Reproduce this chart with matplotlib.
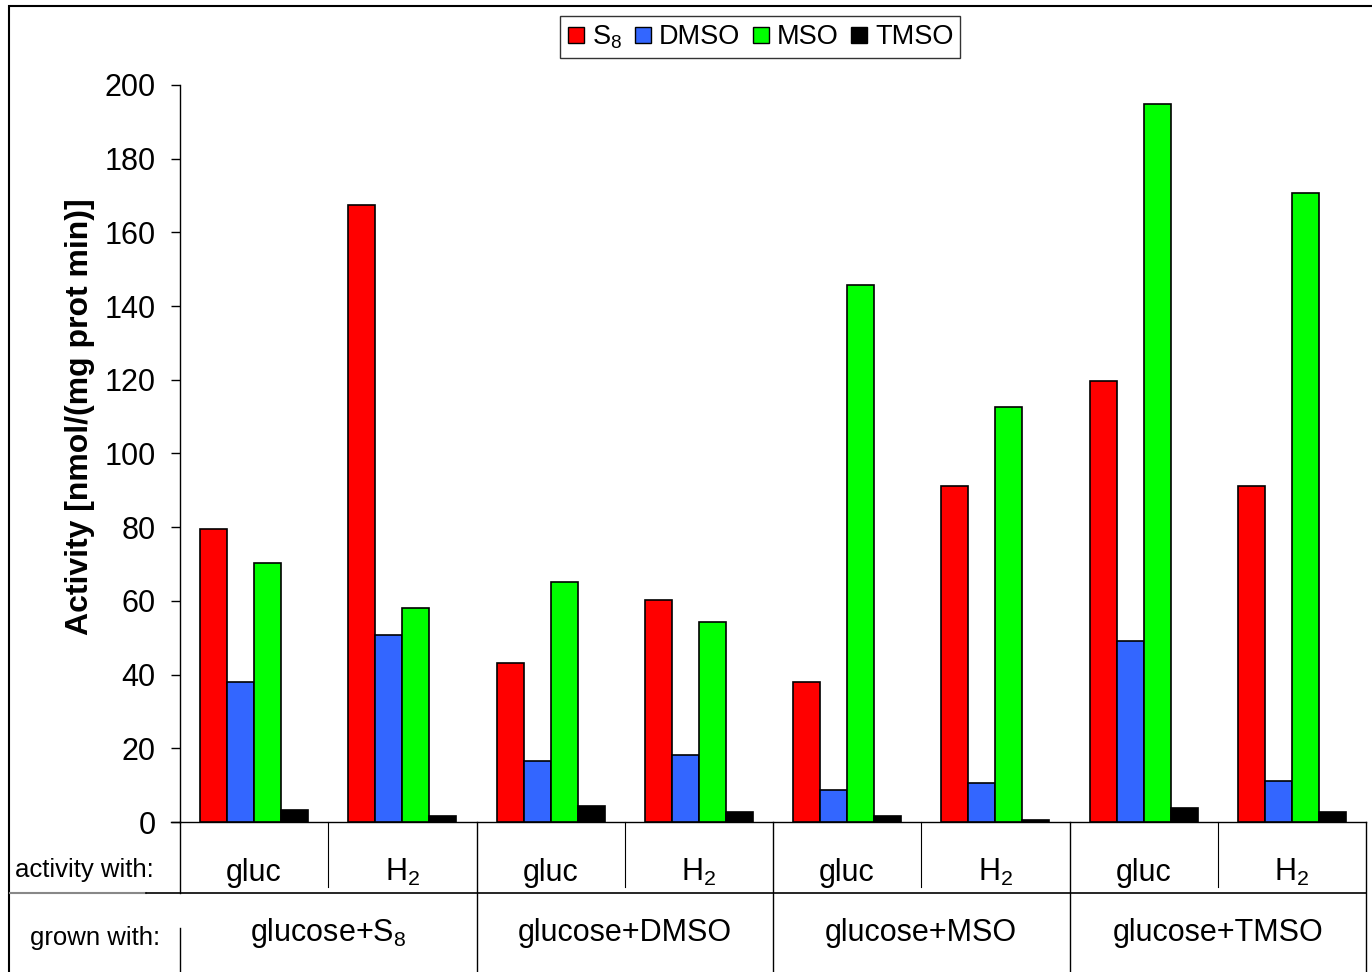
import matplotlib
matplotlib.use("Agg")
import matplotlib.pyplot as plt
from matplotlib.lines import Line2D
from matplotlib.patches import Rectangle
from matplotlib.transforms import blended_transform_factory
import numpy as np

plt.rcParams['font.family'] = ['Liberation Sans', 'DejaVu Sans']
plt.rcParams['mathtext.fontset'] = 'custom'
plt.rcParams['mathtext.rm'] = 'Liberation Sans'
plt.rcParams['mathtext.it'] = 'Liberation Sans'
plt.rcParams['mathtext.bf'] = 'Liberation Sans:bold'

# ---- data ----
activity_with = ['gluc', r'H$_2$', 'gluc', r'H$_2$', 'gluc', r'H$_2$', 'gluc', r'H$_2$']
grown_with = [r'glucose+S$_8$', 'glucose+DMSO', 'glucose+MSO', 'glucose+TMSO']
series_names = [r'S$_8$', 'DMSO', 'MSO', 'TMSO']
s8 = [79.5, 167.4, 43.1, 60.2, 38.0, 91.2, 119.7, 91.2]
dmso = [38.0, 50.7, 16.5, 18.2, 8.7, 10.6, 49.1, 11.1]
mso = [70.3, 58.0, 65.1, 54.3, 145.7, 112.6, 194.8, 170.7]
tmso = [3.3, 1.6, 4.3, 2.7, 1.6, 0.5, 3.8, 2.7]
colors = ['#FF0000', '#3366FF', '#00FF00', '#000000']
yticks = [0, 20, 40, 60, 80, 100, 120, 140, 160, 180, 200]

W, H = 1372, 972
fig = plt.figure(figsize=(W / 100, H / 100), dpi=100)

def fx(px):
    return px / W

def fy(py):
    return 1 - py / H

ax = fig.add_axes([fx(180), fy(822), fx(1366) - fx(180), fy(85) - fy(822)])
x = np.arange(len(s8))
bw = 0.182
for i, (vals, c) in enumerate(zip([s8, dmso, mso, tmso], colors)):
    ax.bar(x + (i - 1.5) * bw, vals, bw, color=c, edgecolor='black', linewidth=1.2, zorder=3)

ax.set_xlim(-0.5, len(s8) - 0.5)
ax.set_ylim(0, 200)
ax.set_yticks(yticks)
ax.tick_params(axis='y', direction='out', length=6.5, width=1.0, pad=11, labelsize=22)
ax.set_xticks([])
for s in ['top', 'right']:
    ax.spines[s].set_visible(False)
for s in ['left', 'bottom']:
    ax.spines[s].set_linewidth(1.0)

# extend x-axis line left like the zero tick
fig.add_artist(Line2D([fx(171), fx(180)], [fy(822), fy(822)], color='black', lw=1.0))

fig.text(fx(80), fy(417), 'Activity [nmol/(mg prot min)]', rotation=90,
         ha='center', va='center', fontsize=23, fontweight='bold')

# ---- table below axis ----
tr = blended_transform_factory(ax.transData, fig.transFigure)
n = len(s8)
# row 1 labels
for i, lab in enumerate(activity_with):
    fig.text(i, fy(881), lab, transform=tr, ha='center', va='baseline', fontsize=22)
# row 2 labels
for g, lab in enumerate(grown_with):
    fig.text(2 * g + 0.5, fy(941), lab, transform=tr, ha='center', va='baseline', fontsize=22)

fig.text(fx(15), fy(877), 'activity with:', ha='left', va='baseline', fontsize=18.5)
fig.text(fx(30), fy(945), 'grown with:', ha='left', va='baseline', fontsize=18.5)

# vertical separators
for b in range(n + 1):
    xb = b - 0.5
    if b % 2 == 1:
        fig.add_artist(Line2D([xb, xb], [fy(822), fy(887)], transform=tr, color='black', lw=0.8))
    else:
        if b == 0:
            fig.add_artist(Line2D([xb, xb], [fy(822), fy(893)], transform=tr, color='black', lw=1.0))
            fig.add_artist(Line2D([xb, xb], [fy(928), fy(975)], transform=tr, color='black', lw=1.0))
        else:
            fig.add_artist(Line2D([xb, xb], [fy(822), fy(975)], transform=tr, color='black', lw=1.0))

# horizontal separator between rows
fig.add_artist(Line2D([fx(10), fx(146)], [fy(893), fy(893)], color='#888888', lw=1.5))
fig.add_artist(Line2D([fx(146), fx(1366)], [fy(893), fy(893)], color='black', lw=1.2))

# figure border
fig.add_artist(Rectangle((fx(9), -0.05), 1.2, fy(6) + 0.05, transform=fig.transFigure,
                         fill=False, edgecolor='black', lw=1.5))

# legend
handles = [Line2D([], [], marker='s', linestyle='none', markersize=11,
                  markerfacecolor=c, markeredgecolor='black', markeredgewidth=1.0)
           for c in colors]
leg = fig.legend(handles, series_names, loc='center', bbox_to_anchor=(fx(760), fy(37)),
                 ncol=4, fontsize=19.5, frameon=True, fancybox=False, handlelength=0.7,
                 handletextpad=0.25, columnspacing=0.4, borderpad=0.25,
                 borderaxespad=0, bbox_transform=fig.transFigure)
leg.get_frame().set_edgecolor('black')
leg.get_frame().set_linewidth(1.0)

fig.savefig('out.png', dpi=100)
